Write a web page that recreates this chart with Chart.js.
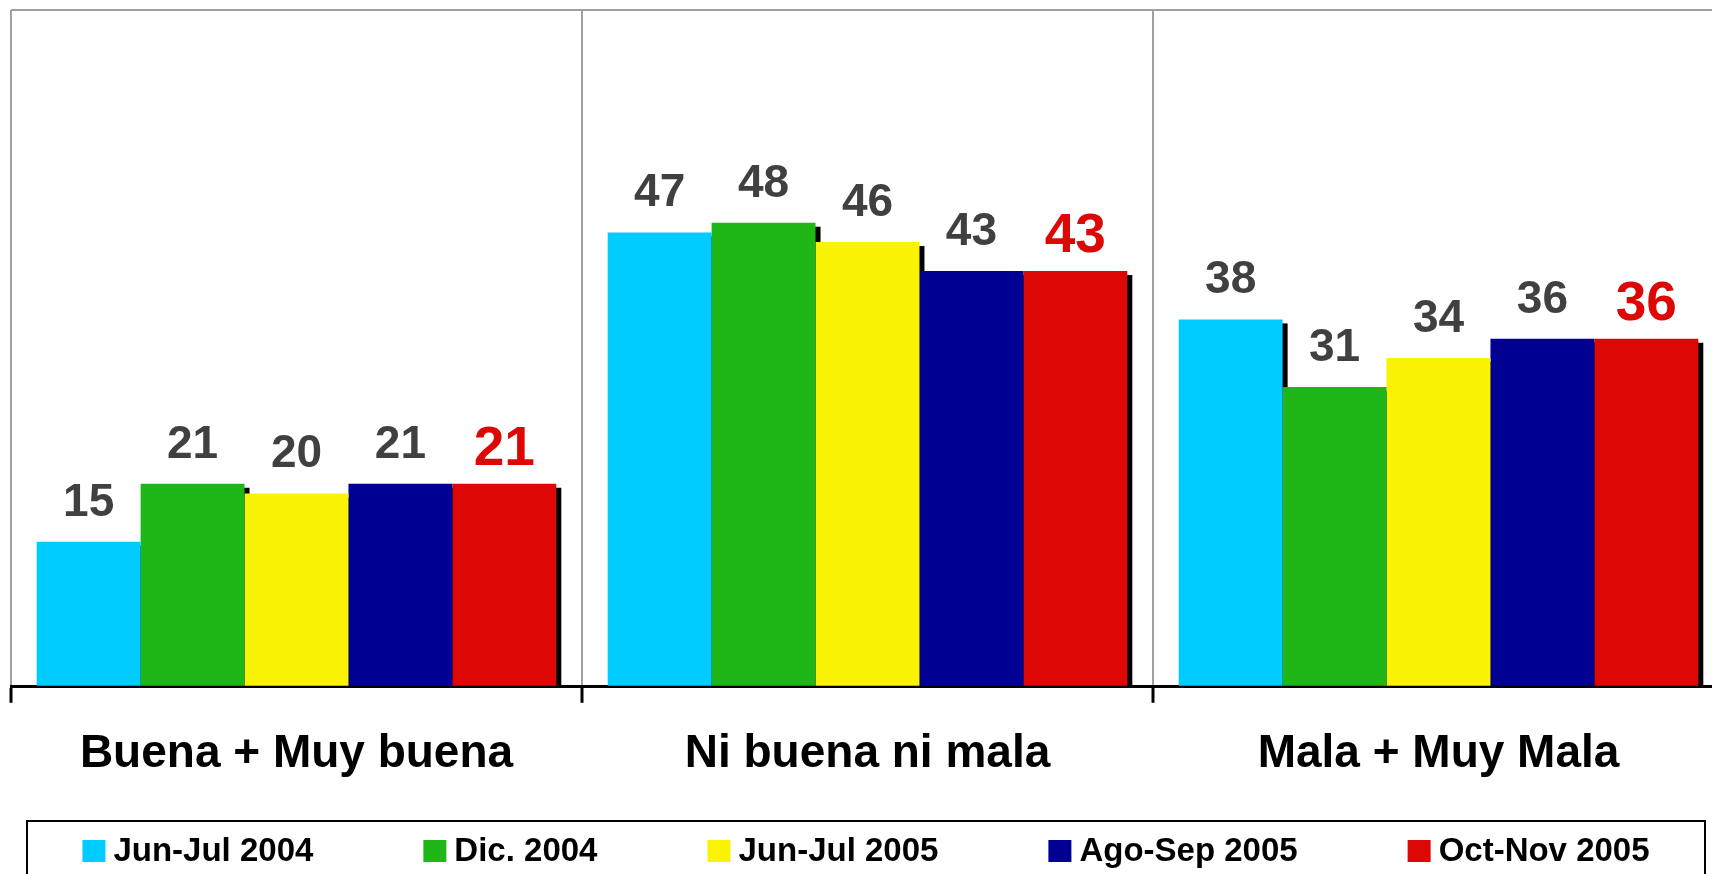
<!DOCTYPE html>
<html>
<head>
    <title>Evaluación - gráfico de barras</title>
    <script src="https://cdn.jsdelivr.net/npm/chart.js"></script>
    <style>
        html, body { margin: 0; padding: 0; background: #fff; overflow: hidden; }
        .marco { width: 1712px; height: 874px; overflow: hidden; }
        .chart-card { width: 1724px; height: 874px; position: relative; }
    </style>
</head>
<body>
    <div class="marco">
        <div class="chart-card">
            <canvas id="chart-evaluacion"></canvas>
        </div>
    </div>

    <script>
        // Datos del gráfico
        const categorias = ["Buena + Muy buena", "Ni buena ni mala", "Mala + Muy Mala"];
        const periodos = ["Jun-Jul 2004", "Dic. 2004", "Jun-Jul 2005", "Ago-Sep 2005", "Oct-Nov 2005"];
        const junJul2004 = [15, 47, 38];
        const dic2004 = [21, 48, 31];
        const junJul2005 = [20, 46, 34];
        const agoSep2005 = [21, 43, 36];
        const octNov2005 = [21, 43, 36];
        const colores = ["#00CCFF", "#1FB618", "#FBF305", "#000093", "#DD0806"];

        const series = [junJul2004, dic2004, junJul2005, agoSep2005, octNov2005];
        const FUENTE = "Arial, 'Liberation Sans', sans-serif";

        // Sombra negra detrás de cada barra
        const sombraBarras = {
            id: "sombraBarras",
            beforeDatasetsDraw(chart) {
                const ctx = chart.ctx;
                ctx.save();
                ctx.fillStyle = "#000";
                chart.data.datasets.forEach((ds, i) => {
                    chart.getDatasetMeta(i).data.forEach(bar => {
                        const p = bar.getProps(["x", "y", "base", "width"], true);
                        ctx.fillRect(p.x - p.width / 2 + 5, p.y + 4, p.width, p.base - p.y - 4);
                    });
                });
                ctx.restore();
            }
        };

        // Valores encima de las barras
        const etiquetasValores = {
            id: "etiquetasValores",
            afterDatasetsDraw(chart) {
                const ctx = chart.ctx;
                const ultimo = chart.data.datasets.length - 1;
                ctx.save();
                ctx.textAlign = "center";
                ctx.textBaseline = "alphabetic";
                chart.data.datasets.forEach((ds, i) => {
                    const destacado = i === ultimo;
                    ctx.font = destacado ? "bold 55px " + FUENTE : "bold 46px " + FUENTE;
                    ctx.fillStyle = destacado ? "#DD0806" : "#404040";
                    chart.getDatasetMeta(i).data.forEach((bar, j) => {
                        const p = bar.getProps(["x", "y"], true);
                        ctx.fillText(String(ds.data[j]), p.x, p.y - (destacado ? 19 : 26));
                    });
                });
                ctx.restore();
            }
        };

        // Leyenda con recuadro
        const leyenda = {
            id: "leyenda",
            afterDraw(chart) {
                const ctx = chart.ctx;
                const caja = { left: 27, right: 1705, top: 821, bottom: 884 };
                ctx.save();
                ctx.strokeStyle = "#000";
                ctx.lineWidth = 2;
                ctx.strokeRect(caja.left, caja.top, caja.right - caja.left, caja.bottom - caja.top);

                ctx.font = "bold 33px " + FUENTE;
                ctx.textBaseline = "middle";
                ctx.textAlign = "left";
                const cuadro = 23, hueco = 8, separacion = 110;
                const anchos = chart.data.datasets.map(ds => cuadro + hueco + ctx.measureText(ds.label).width);
                const total = anchos.reduce((a, b) => a + b, 0) + separacion * (anchos.length - 1);
                let x = (caja.left + caja.right) / 2 - total / 2;
                const yc = 851;
                chart.data.datasets.forEach((ds, i) => {
                    ctx.fillStyle = ds.backgroundColor;
                    ctx.fillRect(x, yc - 11, cuadro, 22);
                    ctx.fillStyle = "#000";
                    ctx.fillText(ds.label, x + cuadro + hueco, yc + 1);
                    x += anchos[i] + separacion;
                });
                ctx.restore();
            }
        };

        const ctx = document.getElementById("chart-evaluacion").getContext("2d");
        new Chart(ctx, {
            type: "bar",
            data: {
                labels: categorias,
                datasets: periodos.map((p, i) => ({
                    label: p,
                    data: series[i],
                    backgroundColor: colores[i],
                    borderWidth: 0
                }))
            },
            options: {
                responsive: true,
                maintainAspectRatio: false,
                animation: false,
                events: [],
                layout: { padding: { left: 11, top: 10, right: 0, bottom: 68 } },
                datasets: {
                    bar: { categoryPercentage: 0.91, barPercentage: 1.0 }
                },
                scales: {
                    x: {
                        z: 1,
                        grid: {
                            offset: true,
                            color: "#A0A0A0",
                            lineWidth: 2,
                            tickColor: "#000",
                            tickWidth: 3,
                            tickLength: 16
                        },
                        border: { color: "#000", width: 3 },
                        ticks: {
                            padding: 24,
                            color: "#000",
                            font: { family: FUENTE, size: 46, weight: "bold" }
                        }
                    },
                    y: {
                        min: 0,
                        max: 70,
                        ticks: { display: false, stepSize: 70 },
                        border: { display: false },
                        grid: {
                            drawTicks: false,
                            lineWidth: 2,
                            color: c => c.tick && c.tick.value === 70 ? "#A0A0A0" : "transparent"
                        }
                    }
                },
                plugins: {
                    legend: { display: false },
                    tooltip: { enabled: false }
                }
            },
            plugins: [sombraBarras, etiquetasValores, leyenda]
        });
    </script>
</body>
</html>
